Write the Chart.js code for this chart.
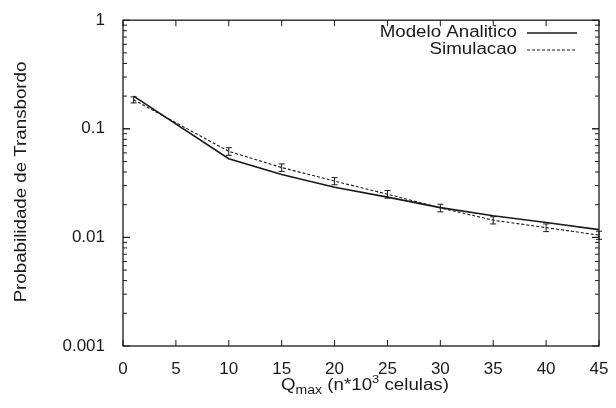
<!DOCTYPE html>
<html>
<head>
<meta charset="utf-8">
<script src="https://cdn.jsdelivr.net/npm/chart.js@4/dist/chart.umd.min.js"></script>
<style>
  html, body { margin: 0; padding: 0; background: #fff; }
  #wrap { width: 616px; height: 408px; }
</style>
</head>
<body>
<div id="wrap"><canvas id="probChart" width="616" height="408"></canvas></div>
<script>
// valores
const qmax = [1, 10, 15, 20, 25, 30, 35, 40, 45];
const analitico = [0.20, 0.053, 0.038, 0.029, 0.0235, 0.0188, 0.0158, 0.0137, 0.0118];
const simulacao = [0.185, 0.062, 0.044, 0.033, 0.025, 0.0187, 0.0144, 0.0123, 0.0105];
const erroSim = [0.012, 0.005, 0.0035, 0.0025, 0.002, 0.0015, 0.0011, 0.001, 0.0009];
const xTicks = [0, 5, 10, 15, 20, 25, 30, 35, 40, 45];
const yTicks = [0.001, 0.01, 0.1, 1];

const FONT = '"Liberation Sans", Arial, sans-serif';
const INK = '#1a1a1a';
const STRETCH = 1.17; // o texto original parece esticado na horizontal

const toPoints = (ys) => qmax.map((x, i) => ({ x: x, y: ys[i] }));

// texto esticado: desenha em (x, y) com alinhamento dado
function wideText(c, txt, x, y, align) {
  const w = c.measureText(txt).width * STRETCH;
  let x0 = x;
  if (align === 'right') x0 = x - w;
  if (align === 'center') x0 = x - w / 2;
  c.save();
  c.translate(x0, y);
  c.scale(STRETCH, 1);
  c.textAlign = 'left';
  c.fillText(txt, 0, 0);
  c.restore();
  return w;
}

// moldura, tiques menores, barras de erro, legenda e titulos
const gnuplotLook = {
  id: 'gnuplotLook',
  afterDatasetsDraw(chart) {
    const c = chart.ctx;
    const a = chart.chartArea;
    const xs = chart.scales.x, ys = chart.scales.y;
    c.save();
    c.strokeStyle = INK;
    c.lineWidth = 1.3;
    c.strokeRect(a.left, a.top, a.right - a.left, a.bottom - a.top);

    // tiques x (baixo e topo)
    c.lineWidth = 1;
    xTicks.forEach(v => {
      const px = xs.getPixelForValue(v);
      c.beginPath();
      c.moveTo(px, a.bottom); c.lineTo(px, a.bottom - 6);
      c.moveTo(px, a.top); c.lineTo(px, a.top + 6);
      c.stroke();
    });
    // tiques y log (esquerda e direita)
    for (let d = 0.001; d < 1; d *= 10) {
      for (let m = 1; m <= 10; m++) {
        const v = d * m;
        const py = ys.getPixelForValue(v);
        const len = (m === 1 || m === 10) ? 7 : 4;
        c.beginPath();
        c.moveTo(a.left, py); c.lineTo(a.left + len, py);
        c.moveTo(a.right, py); c.lineTo(a.right - len, py);
        c.stroke();
      }
    }

    // barras de erro da simulacao
    c.lineWidth = 1;
    qmax.forEach((x, i) => {
      const px = xs.getPixelForValue(x);
      const lo = ys.getPixelForValue(simulacao[i] - erroSim[i]);
      const hi = ys.getPixelForValue(simulacao[i] + erroSim[i]);
      c.beginPath();
      c.moveTo(px, lo); c.lineTo(px, hi);
      c.moveTo(px - 3, lo); c.lineTo(px + 3, lo);
      c.moveTo(px - 3, hi); c.lineTo(px + 3, hi);
      c.stroke();
    });

    // legenda
    c.fillStyle = INK;
    c.font = '16px ' + FONT;
    c.textBaseline = 'middle';
    const lx = 517;
    const rows = [['Modelo Analitico', [], 1.5, 33], ['Simulacao', [3, 2], 1, 50]];
    rows.forEach(r => {
      wideText(c, r[0], lx, r[3], 'right');
      c.beginPath();
      c.setLineDash(r[1]);
      c.lineWidth = r[2];
      c.moveTo(lx + 10, r[3]); c.lineTo(lx + 60, r[3]);
      c.stroke();
      c.setLineDash([]);
    });

    // titulo do eixo x com subscrito e sobrescrito
    c.textBaseline = 'alphabetic';
    const base = 390;
    const parts = [['Q', 16, 0], ['max', 12, 4], [' (n*10', 16, 0], ['3', 11, -7], [' celulas)', 16, 0]];
    let w = 0;
    parts.forEach(p => { c.font = p[1] + 'px ' + FONT; w += c.measureText(p[0]).width * STRETCH; });
    let cx = 365 - w / 2;
    parts.forEach(p => {
      c.font = p[1] + 'px ' + FONT;
      cx += wideText(c, p[0], cx, base + p[2], 'left');
    });

    // titulo do eixo y
    c.font = '16px ' + FONT;
    c.textBaseline = 'middle';
    c.translate(22, 182);
    c.rotate(-Math.PI / 2);
    wideText(c, 'Probabilidade de Transbordo', 0, 0, 'center');
    c.restore();
  }
};

const ctx = document.getElementById('probChart').getContext('2d');

new Chart(ctx, {
  type: 'line',
  data: {
    datasets: [
      {
        label: 'Modelo Analitico',
        data: toPoints(analitico),
        borderColor: INK,
        borderWidth: 1.6,
        pointRadius: 0,
        tension: 0,
        fill: false
      },
      {
        label: 'Simulacao',
        data: toPoints(simulacao),
        borderColor: INK,
        borderWidth: 1.1,
        borderDash: [3, 2],
        pointRadius: 0,
        tension: 0,
        fill: false
      }
    ]
  },
  options: {
    responsive: false,
    animation: false,
    layout: { padding: { left: 0, right: 17, top: 17, bottom: 0 } },
    plugins: { legend: { display: false }, tooltip: { enabled: false } },
    scales: {
      x: {
        type: 'linear',
        min: 0,
        max: 45,
        grid: { display: false },
        border: { display: false },
        afterBuildTicks: (s) => { s.ticks = xTicks.map(v => ({ value: v })); },
        afterFit: (s) => { s.height = 62; },
        ticks: {
          color: INK,
          padding: 5,
          maxRotation: 0,
          font: { family: FONT, size: 17 }
        }
      },
      y: {
        type: 'logarithmic',
        min: 0.001,
        max: 1,
        grid: { display: false },
        border: { display: false },
        afterBuildTicks: (s) => { s.ticks = yTicks.map(v => ({ value: v })); },
        afterFit: (s) => { s.width = 123; },
        ticks: {
          color: INK,
          padding: 10,
          font: { family: FONT, size: 17 },
          callback: (v) => String(v)
        }
      }
    }
  },
  plugins: [gnuplotLook]
});
</script>
</body>
</html>
